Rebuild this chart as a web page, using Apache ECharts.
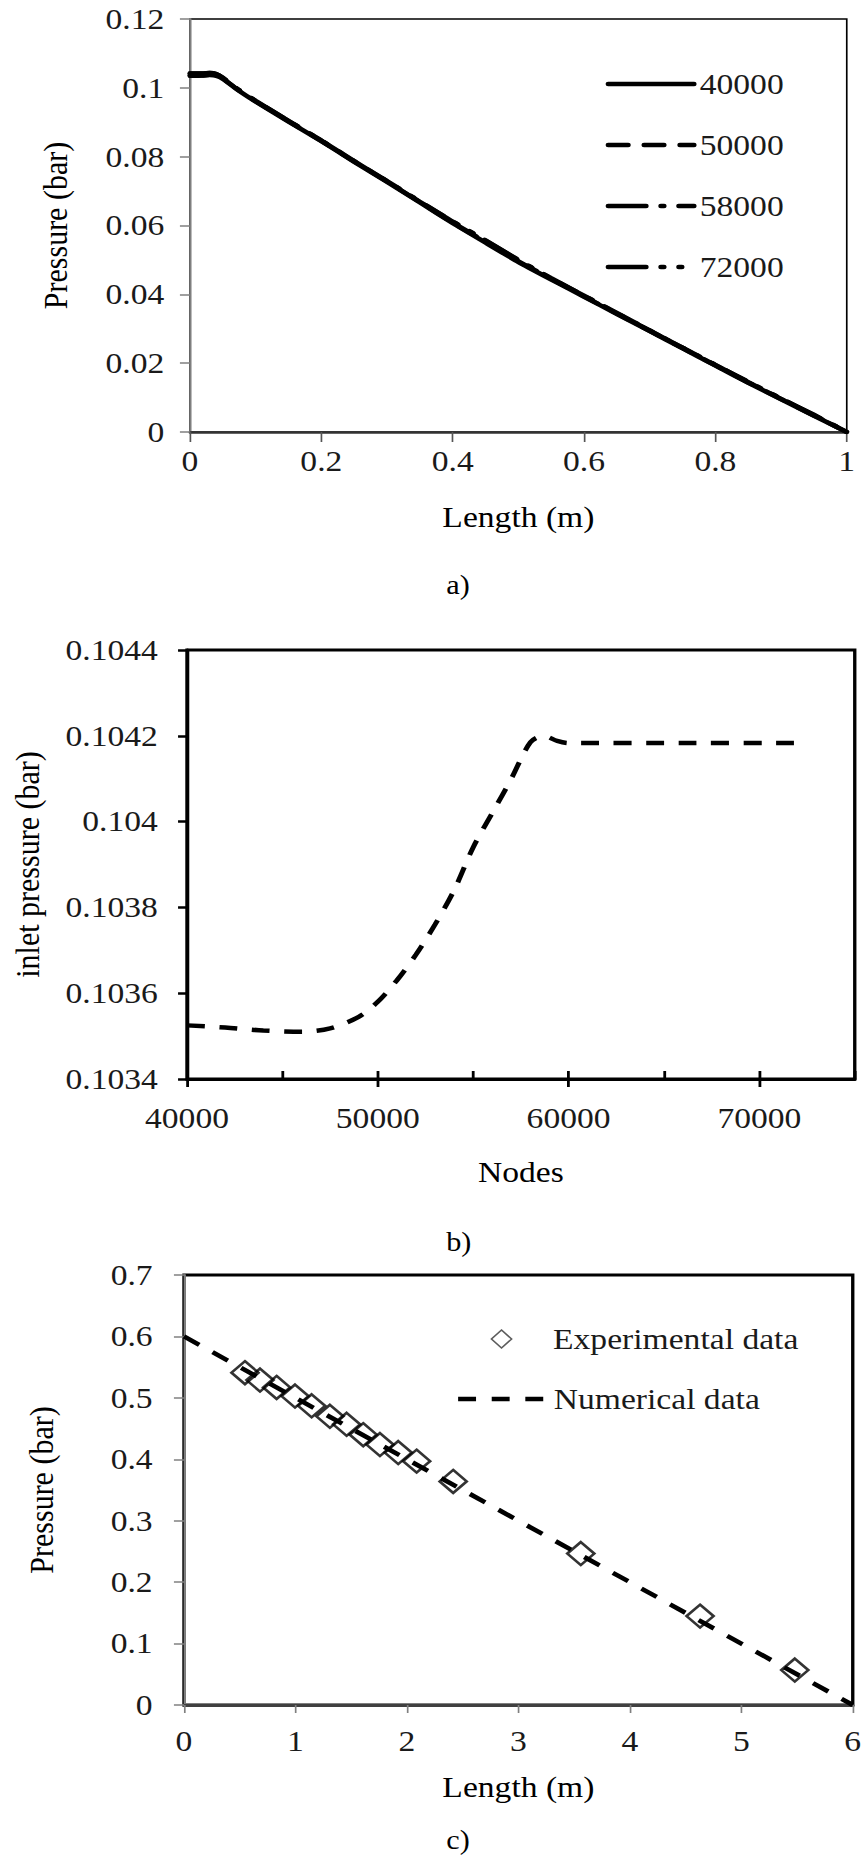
<!DOCTYPE html>
<html><head><meta charset="utf-8">
<script src="https://cdn.jsdelivr.net/npm/echarts@6/dist/echarts.min.js"></script>
<style>
html,body{margin:0;padding:0;background:#fff;overflow:hidden;}
#wrap{width:866px;height:1856px;overflow:hidden;position:relative;background:#fff;}
#chart{width:773.2px;height:1856px;transform:scaleX(1.12);transform-origin:0 0;}
</style></head><body><div id="wrap"><div id="chart"></div></div>
<script>
// ---------- data: chart a ----------
const aLength = [0, 0.01, 0.02, 0.03, 0.04, 0.05, 0.075, 0.1, 0.15, 0.2, 0.25, 0.3, 0.35, 0.4, 0.45, 0.5, 0.55, 0.6, 0.65, 0.7, 0.75, 0.8, 0.85, 0.9, 0.95, 1.0];
const a40000 = [0.1035, 0.1035, 0.1036, 0.1037, 0.1035, 0.1026, 0.0991, 0.0960, 0.0902, 0.0845, 0.0785, 0.0727, 0.0667, 0.0607, 0.0550, 0.0494, 0.0443, 0.0393, 0.0343, 0.0293, 0.0243, 0.0193, 0.0143, 0.0095, 0.0047, 0.0];
const a50000 = [0.10357, 0.10357, 0.1036, 0.1038, 0.1036, 0.1027, 0.0992, 0.0961, 0.0903, 0.0846, 0.0786, 0.0728, 0.0668, 0.0608, 0.0553, 0.0496, 0.0445, 0.0394, 0.0344, 0.0294, 0.0244, 0.0194, 0.0144, 0.0096, 0.0048, 0.0];
const a58000 = [0.1042, 0.1042, 0.1042, 0.1043, 0.1040, 0.1029, 0.0993, 0.0962, 0.0904, 0.0847, 0.0787, 0.0729, 0.0670, 0.0611, 0.0557, 0.0500, 0.0447, 0.0396, 0.0346, 0.0295, 0.0245, 0.0195, 0.0145, 0.0097, 0.0050, 0.0];
const a72000 = [0.10418, 0.10418, 0.1042, 0.1043, 0.1040, 0.1029, 0.0993, 0.0962, 0.0904, 0.0847, 0.0787, 0.0729, 0.0669, 0.0612, 0.0556, 0.0499, 0.0446, 0.0396, 0.0345, 0.0295, 0.0245, 0.0195, 0.0146, 0.0097, 0.0049, 0.0];
const aSeriesNames = ['40000', '50000', '58000', '72000'];
const aXTicks = [0, 0.2, 0.4, 0.6, 0.8, 1];
const aYTicks = [0, 0.02, 0.04, 0.06, 0.08, 0.1, 0.12];

// ---------- data: chart b ----------
const bNodes = [40000, 42000, 44000, 46000, 47500, 49000, 50000, 51000, 52000, 53000, 54000, 55000, 56000, 57000, 58000, 58700, 59400, 60000, 66000, 72000];
const bInlet = [0.103525, 0.10352, 0.103513, 0.10351, 0.103518, 0.103545, 0.10358, 0.10363, 0.10369, 0.10376, 0.10384, 0.10394, 0.10402, 0.10410, 0.104185, 0.104200, 0.104188, 0.104183, 0.104183, 0.104183];
const bXTicks = [40000, 50000, 60000, 70000];
const bXMinorTicks = [40000, 45000, 50000, 55000, 60000, 65000, 70000, 75000];
const bXMax = 75000;
const bYTicks = [0.1034, 0.1036, 0.1038, 0.104, 0.1042, 0.1044];

// ---------- data: chart c ----------
const cExpLength = [0.547, 0.682, 0.831, 0.996, 1.145, 1.309, 1.459, 1.608, 1.758, 1.922, 2.087, 2.415, 3.56, 4.63, 5.48];
const cExpPressure = [0.541, 0.529, 0.517, 0.503, 0.487, 0.470, 0.457, 0.440, 0.424, 0.411, 0.397, 0.364, 0.2466, 0.1447, 0.0569];
const cNumLength = [0, 1, 2, 3, 4, 5, 6];
const cNumPressure = [0.6, 0.5, 0.4, 0.3, 0.2, 0.1, 0.0];
const cXTicks = [0, 1, 2, 3, 4, 5, 6];
const cYTicks = [0, 0.1, 0.2, 0.3, 0.4, 0.5, 0.6, 0.7];
const captions = ['a)', 'b)', 'c)'];

// ---------- layout ----------
const S = 1.12;              // horizontal stretch of the picture
const X = v => v / S;        // page x -> internal x
const FONT = 'Liberation Serif';
const TXT = '#1a1a1a';
const lab = (extra) => Object.assign({fontFamily: FONT, fontSize: 30, color: TXT}, extra || {});
const fmt4 = v => String(+(+v).toFixed(4));
const zip = (xs, ys) => xs.map((x, i) => [x, ys[i]]);

const chart = echarts.init(document.getElementById('chart'), null, {renderer: 'svg'});

const grids = [
  {left: X(190), right: X(866 - 847), top: 19, height: 413, show: true, borderColor: '#000', borderWidth: 1.5, containLabel: false},
  {left: X(187), right: X(866 - 855), top: 650, height: 429, show: true, borderColor: '#000', borderWidth: 3, containLabel: false},
  {left: X(184), right: X(866 - 853), top: 1275, height: 430, show: true, borderColor: '#000', borderWidth: 3, containLabel: false}
];

const xAxes = [
  { gridIndex: 0, type: 'value', min: aXTicks[0], max: aXTicks[aXTicks.length - 1], interval: aXTicks[1] - aXTicks[0],
    axisLine: {onZero: false, lineStyle: {color: '#333', width: 2.5}},
    axisTick: {length: 10, lineStyle: {color: '#555', width: 1.5}},
    axisLabel: lab({margin: 14, formatter: fmt4}), splitLine: {show: false},
    name: 'Length (m)', nameLocation: 'middle', nameGap: 70, nameTextStyle: lab({color: '#000'}) },
  { gridIndex: 1, type: 'value', min: bXTicks[0], max: bXMax,
    axisLine: {onZero: false, lineStyle: {color: '#000', width: 3}},
    axisTick: {length: 8, customValues: bXTicks, lineStyle: {color: '#000', width: 2.5}},
    axisLabel: lab({margin: 24, customValues: bXTicks, formatter: v => String(v)}), splitLine: {show: false},
    name: 'Nodes', nameLocation: 'middle', nameGap: 78, nameTextStyle: lab({color: '#000'}) },
  { gridIndex: 1, type: 'value', min: bXTicks[0], max: bXMax, position: 'bottom',
    axisLine: {show: false},
    axisTick: {inside: true, length: 8, customValues: bXMinorTicks, lineStyle: {color: '#000', width: 2.5}},
    axisLabel: {show: false}, splitLine: {show: false} },
  { gridIndex: 2, type: 'value', min: cXTicks[0], max: cXTicks[cXTicks.length - 1], interval: cXTicks[1] - cXTicks[0],
    axisLine: {onZero: false, lineStyle: {color: '#404040', width: 3}},
    axisTick: {length: 8, lineStyle: {color: '#808080', width: 1.5}},
    axisLabel: lab({margin: 21, formatter: fmt4}), splitLine: {show: false},
    name: 'Length (m)', nameLocation: 'middle', nameGap: 67, nameTextStyle: lab({color: '#000'}) }
];

const yAxes = [
  { gridIndex: 0, type: 'value', min: aYTicks[0], max: aYTicks[aYTicks.length - 1], interval: aYTicks[1] - aYTicks[0],
    axisLine: {onZero: false, lineStyle: {color: '#7f7f7f', width: 2}},
    axisTick: {length: 9, lineStyle: {color: '#7f7f7f', width: 1.5}},
    axisLabel: lab({margin: 23, formatter: fmt4}), splitLine: {show: false},
    name: 'Pressure (bar)', nameLocation: 'middle', nameRotate: 90, nameGap: 105, nameTextStyle: lab({color: '#000'}) },
  { gridIndex: 1, type: 'value', min: bYTicks[0], max: bYTicks[bYTicks.length - 1], interval: 0.0002,
    axisLine: {onZero: false, lineStyle: {color: '#000', width: 3}},
    axisTick: {length: 8, lineStyle: {color: '#000', width: 2.5}},
    axisLabel: lab({margin: 26, formatter: fmt4}), splitLine: {show: false},
    name: 'inlet pressure (bar)', nameLocation: 'middle', nameRotate: 90, nameGap: 127, nameTextStyle: lab({color: '#000'}) },
  { gridIndex: 2, type: 'value', min: cYTicks[0], max: cYTicks[cYTicks.length - 1], interval: 0.1,
    axisLine: {onZero: false, lineStyle: {color: '#808080', width: 2}},
    axisTick: {length: 9, lineStyle: {color: '#808080', width: 1.5}},
    axisLabel: lab({margin: 28, formatter: fmt4}), splitLine: {show: false},
    name: 'Pressure (bar)', nameLocation: 'middle', nameRotate: 90, nameGap: 112, nameTextStyle: lab({color: '#000'}) }
];

const aDash = ['solid', [18, 14], [34, 13, 3, 13], [34, 13, 3, 13, 3, 13]];
const aData = [a40000, a50000, a58000, a72000];
const aSeries = aSeriesNames.map((n, i) => ({
  name: n, type: 'line', xAxisIndex: 0, yAxisIndex: 0, data: zip(aLength, aData[i]),
  symbol: 'none', smooth: 0.2, z: 3,
  lineStyle: {color: '#000', width: 4.5, type: aDash[i], cap: 'round'}
}));

const hidden = {color: 'rgba(0,0,0,0)', borderColor: 'rgba(0,0,0,0)', borderWidth: 0};
const capY = [585, 1242, 1840];

const option = {
  backgroundColor: '#fff',
  animation: false,
  grid: grids,
  xAxis: xAxes,
  yAxis: yAxes,
  legend: [
    { data: aSeriesNames.map(n => ({name: n, itemStyle: hidden})),
      orient: 'vertical', left: X(600), top: 62, itemWidth: X(86), itemHeight: 14, itemGap: 27,
      textStyle: lab({lineHeight: 34}), lineStyle: {width: 4.5}, selectedMode: false },
    { data: [{name: 'Experimental data', icon: 'diamond', itemStyle: {color: 'rgba(0,0,0,0)', borderColor: '#333', borderWidth: 1.5}}],
      orient: 'vertical', left: X(485), top: 1317, itemWidth: 18, itemHeight: 18,
      textStyle: lab({lineHeight: 34, padding: [0, 0, 0, 32]}), selectedMode: false },
    { data: [{name: 'Numerical data', itemStyle: hidden}],
      orient: 'vertical', left: X(450), top: 1377, itemWidth: X(90), itemHeight: 18,
      textStyle: lab({lineHeight: 34}), lineStyle: {width: 4.5}, selectedMode: false }
  ],
  graphic: captions.map((t, i) => ({
    type: 'text', left: X(458) - 10.5, top: capY[i] - 14,
    style: {text: t, fontSize: 27, fontFamily: FONT, fill: '#000'}
  })),
  series: aSeries.concat([
    { name: 'b', type: 'line', xAxisIndex: 1, yAxisIndex: 1, data: zip(bNodes, bInlet),
      symbol: 'none', smooth: 0.3, lineStyle: {color: '#000', width: 4.5, type: [16, 13]} },
    { name: 'Numerical data', type: 'line', xAxisIndex: 3, yAxisIndex: 2, data: zip(cNumLength, cNumPressure),
      symbol: 'none', lineStyle: {color: '#000', width: 4.5, type: [16, 14]}, z: 2 },
    { name: 'Experimental data', type: 'scatter', xAxisIndex: 3, yAxisIndex: 2, data: zip(cExpLength, cExpPressure),
      symbol: 'diamond', symbolSize: [X(27), 23], z: 3,
      itemStyle: {color: 'rgba(0,0,0,0)', borderColor: '#000', borderWidth: 2.5} }
  ])
};
chart.setOption(option);
</script>
</body></html>
